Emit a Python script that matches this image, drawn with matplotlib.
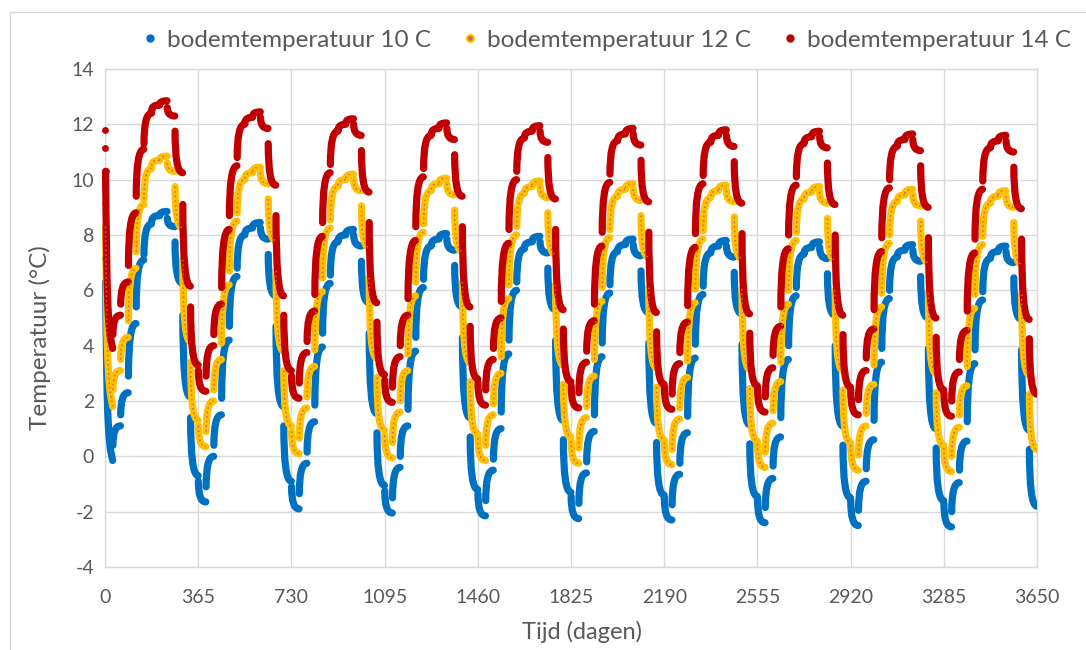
import numpy as np
import matplotlib.pyplot as plt
from matplotlib.lines import Line2D
from matplotlib.patches import Rectangle, PathPatch
from matplotlib.path import Path

plt.rcParams['font.family'] = ['Lato', 'DejaVu Sans']
plt.rcParams['axes.unicode_minus'] = False

# Monthly simulation results (10 years x 12 months):
# value just after the monthly load step and value at the end of the month
red_start = [
    [11.8, 4.4, 5.5, 6.9, 9.4, 11.3, 12.5, 12.7, 12.6, 11.75, 9.1, 5.4],
    [3.1, 2.9, 4.4, 6.1, 8.7, 10.8, 12.05, 12.3, 12.25, 11.3, 8.7, 5.1],
    [2.9, 2.65, 4.15, 5.85, 8.45, 10.55, 11.8, 12.05, 12.0, 11.05, 8.45, 4.85],
    [2.75, 2.5, 4.0, 5.7, 8.3, 10.4, 11.65, 11.9, 11.85, 10.9, 8.3, 4.7],
    [2.65, 2.4, 3.9, 5.6, 8.2, 10.3, 11.55, 11.8, 11.75, 10.8, 8.2, 4.6],
    [2.55, 2.3, 3.8, 5.5, 8.1, 10.2, 11.45, 11.7, 11.65, 10.7, 8.1, 4.5],
    [2.5, 2.25, 3.75, 5.45, 8.05, 10.15, 11.4, 11.65, 11.6, 10.65, 8.05, 4.45],
    [2.45, 2.15, 3.65, 5.4, 8.0, 10.1, 11.35, 11.6, 11.55, 10.6, 8.0, 4.4],
    [2.4, 2.05, 3.55, 5.3, 7.9, 10.0, 11.25, 11.5, 11.45, 10.5, 7.9, 4.3],
    [2.3, 2.0, 3.5, 5.25, 7.85, 9.95, 11.2, 11.45, 11.4, 10.45, 7.85, 4.25],
]
red_end = [
    [3.9, 5.1, 6.3, 8.8, 11.1, 12.4, 12.7, 12.85, 12.3, 10.25, 6.15, 3.3],
    [2.35, 4.0, 5.5, 8.2, 10.5, 12.0, 12.25, 12.45, 11.85, 9.8, 5.8, 3.1],
    [2.1, 3.75, 5.25, 7.95, 10.25, 11.75, 12.0, 12.2, 11.6, 9.55, 5.55, 2.95],
    [1.95, 3.6, 5.1, 7.8, 10.1, 11.6, 11.85, 12.05, 11.45, 9.4, 5.4, 2.8],
    [1.85, 3.5, 5.0, 7.7, 10.0, 11.5, 11.75, 11.95, 11.35, 9.3, 5.3, 2.7],
    [1.75, 3.4, 4.9, 7.6, 9.9, 11.4, 11.65, 11.85, 11.25, 9.2, 5.2, 2.6],
    [1.7, 3.35, 4.85, 7.55, 9.85, 11.35, 11.6, 11.8, 11.2, 9.15, 5.15, 2.55],
    [1.6, 3.2, 4.7, 7.5, 9.8, 11.3, 11.55, 11.75, 11.15, 9.1, 5.1, 2.5],
    [1.5, 3.1, 4.6, 7.4, 9.7, 11.2, 11.45, 11.65, 11.05, 9.0, 5.0, 2.4],
    [1.45, 3.05, 4.55, 7.35, 9.65, 11.15, 11.4, 11.6, 11.0, 8.95, 4.95, 2.25],
]
yellow_start = [
    [9.8, 2.4, 3.5, 4.9, 7.4, 9.3, 10.5, 10.7, 10.6, 9.75, 7.1, 3.4],
    [1.1, 0.9, 2.4, 4.1, 6.7, 8.8, 10.05, 10.3, 10.25, 9.3, 6.7, 3.1],
    [0.9, 0.65, 2.15, 3.85, 6.45, 8.55, 9.8, 10.05, 10.0, 9.05, 6.45, 2.85],
    [0.75, 0.5, 2.0, 3.7, 6.3, 8.4, 9.65, 9.9, 9.85, 8.9, 6.3, 2.7],
    [0.65, 0.4, 1.9, 3.6, 6.2, 8.3, 9.55, 9.8, 9.75, 8.8, 6.2, 2.6],
    [0.55, 0.3, 1.8, 3.5, 6.1, 8.2, 9.45, 9.7, 9.65, 8.7, 6.1, 2.5],
    [0.5, 0.25, 1.75, 3.45, 6.05, 8.15, 9.4, 9.65, 9.6, 8.65, 6.05, 2.45],
    [0.45, 0.15, 1.65, 3.4, 6.0, 8.1, 9.35, 9.6, 9.55, 8.6, 6.0, 2.4],
    [0.4, 0.05, 1.55, 3.3, 5.9, 8.0, 9.25, 9.5, 9.45, 8.5, 5.9, 2.3],
    [0.3, 0.0, 1.5, 3.25, 5.85, 7.95, 9.2, 9.45, 9.4, 8.45, 5.85, 2.25],
]
yellow_end = [
    [1.8, 3.1, 4.3, 6.8, 9.1, 10.4, 10.7, 10.85, 10.3, 8.25, 4.15, 1.3],
    [0.35, 2.0, 3.5, 6.2, 8.5, 10.0, 10.25, 10.45, 9.85, 7.8, 3.8, 1.1],
    [0.1, 1.75, 3.25, 5.95, 8.25, 9.75, 10.0, 10.2, 9.6, 7.55, 3.55, 0.95],
    [-0.05, 1.6, 3.1, 5.8, 8.1, 9.6, 9.85, 10.05, 9.45, 7.4, 3.4, 0.8],
    [-0.15, 1.5, 3.0, 5.7, 8.0, 9.5, 9.75, 9.95, 9.35, 7.3, 3.3, 0.7],
    [-0.25, 1.4, 2.9, 5.6, 7.9, 9.4, 9.65, 9.85, 9.25, 7.2, 3.2, 0.6],
    [-0.3, 1.35, 2.85, 5.55, 7.85, 9.35, 9.6, 9.8, 9.2, 7.15, 3.15, 0.55],
    [-0.4, 1.2, 2.7, 5.5, 7.8, 9.3, 9.55, 9.75, 9.15, 7.1, 3.1, 0.5],
    [-0.5, 1.1, 2.6, 5.4, 7.7, 9.2, 9.45, 9.65, 9.05, 7.0, 3.0, 0.4],
    [-0.55, 1.05, 2.55, 5.35, 7.65, 9.15, 9.4, 9.6, 9.0, 6.95, 2.95, 0.25],
]
blue_start = [
    [7.8, 0.4, 1.5, 2.9, 5.4, 7.3, 8.5, 8.7, 8.6, 7.75, 5.1, 1.4],
    [-0.9, -1.1, 0.4, 2.1, 4.7, 6.8, 8.05, 8.3, 8.25, 7.3, 4.7, 1.1],
    [-1.1, -1.35, 0.15, 1.85, 4.45, 6.55, 7.8, 8.05, 8.0, 7.05, 4.45, 0.85],
    [-1.25, -1.5, 0.0, 1.7, 4.3, 6.4, 7.65, 7.9, 7.85, 6.9, 4.3, 0.7],
    [-1.35, -1.6, -0.1, 1.6, 4.2, 6.3, 7.55, 7.8, 7.75, 6.8, 4.2, 0.6],
    [-1.45, -1.7, -0.2, 1.5, 4.1, 6.2, 7.45, 7.7, 7.65, 6.7, 4.1, 0.5],
    [-1.5, -1.75, -0.25, 1.45, 4.05, 6.15, 7.4, 7.65, 7.6, 6.65, 4.05, 0.45],
    [-1.55, -1.85, -0.35, 1.4, 4.0, 6.1, 7.35, 7.6, 7.55, 6.6, 4.0, 0.4],
    [-1.6, -1.95, -0.45, 1.3, 3.9, 6.0, 7.25, 7.5, 7.45, 6.5, 3.9, 0.3],
    [-1.7, -2.0, -0.5, 1.25, 3.85, 5.95, 7.2, 7.45, 7.4, 6.45, 3.85, 0.25],
]
blue_end = [
    [-0.15, 1.1, 2.3, 4.8, 7.1, 8.4, 8.7, 8.85, 8.3, 6.25, 2.15, -0.7],
    [-1.65, 0.0, 1.5, 4.2, 6.5, 8.0, 8.25, 8.45, 7.85, 5.8, 1.8, -0.9],
    [-1.9, -0.25, 1.25, 3.95, 6.25, 7.75, 8.0, 8.2, 7.6, 5.55, 1.55, -1.05],
    [-2.05, -0.4, 1.1, 3.8, 6.1, 7.6, 7.85, 8.05, 7.45, 5.4, 1.4, -1.2],
    [-2.15, -0.5, 1.0, 3.7, 6.0, 7.5, 7.75, 7.95, 7.35, 5.3, 1.3, -1.3],
    [-2.25, -0.6, 0.9, 3.6, 5.9, 7.4, 7.65, 7.85, 7.25, 5.2, 1.2, -1.4],
    [-2.3, -0.65, 0.85, 3.55, 5.85, 7.35, 7.6, 7.8, 7.2, 5.15, 1.15, -1.45],
    [-2.4, -0.8, 0.7, 3.5, 5.8, 7.3, 7.55, 7.75, 7.15, 5.1, 1.1, -1.5],
    [-2.5, -0.9, 0.6, 3.4, 5.7, 7.2, 7.45, 7.65, 7.05, 5.0, 1.0, -1.6],
    [-2.55, -0.95, 0.55, 3.35, 5.65, 7.15, 7.4, 7.6, 7.0, 4.95, 0.95, -1.8],
]

# first month: fast cooling from the initial ground temperature
jan_days = [0.3, 1, 2, 4, 6, 8, 11, 15, 21, 30]
red_jan = [11.8, 11.15, 10.3, 8.8, 7.4, 6.4, 5.5, 4.8, 4.3, 3.9]
yellow_jan = [9.8, 9.15, 8.3, 6.8, 5.4, 4.4, 3.5, 2.8, 2.25, 1.8]
blue_jan = [7.8, 7.15, 6.3, 4.8, 3.4, 2.4, 1.5, 0.8, 0.25, -0.15]

labels = ['bodemtemperatuur 10 C', 'bodemtemperatuur 12 C', 'bodemtemperatuur 14 C']
x_ticks = [0, 365, 730, 1095, 1460, 1825, 2190, 2555, 2920, 3285, 3650]
y_ticks = [-4, -2, 0, 2, 4, 6, 8, 10, 12, 14]

blue_c = '#0070C0'
yellow_c = '#FFC000'
red_c = '#C00000'
dot_c = '#C8645A'
grid_c = '#D9D9D9'
text_c = '#595959'

month_len = 365 / 12


def month_path(start, end):
    # each month: the step value relaxes towards the month-end value,
    # drawn as a curve that leaves the step steeply and flattens out
    start = np.ravel(start)
    end = np.ravel(end)
    verts, codes = [], []
    for m in range(1, len(start)):
        d0 = m * month_len + 0.5
        d1 = (m + 1) * month_len - 0.5
        verts += [(d0, start[m]), (d0, end[m]), (d1, end[m])]
        codes += [Path.MOVETO, Path.CURVE3, Path.CURVE3]
    return Path(verts, codes)


fig = plt.figure(figsize=(10.86, 6.5), dpi=100)
ax = fig.add_axes([0.0967, 0.1277, 0.8582, 0.7662])

lw = 5.2
for start, end, jan, col in [(blue_start, blue_end, blue_jan, blue_c),
                             (yellow_start, yellow_end, yellow_jan, yellow_c),
                             (red_start, red_end, red_jan, red_c)]:
    path = month_path(start, end)
    ax.add_patch(PathPatch(path, fill=False, ec=col, lw=lw, capstyle='round',
                           joinstyle='round', zorder=3))
    ax.plot(jan_days[2:], jan[2:], color=col, lw=lw, solid_capstyle='round',
            solid_joinstyle='round', clip_on=False, zorder=3)
    ax.plot(jan_days[:3], jan[:3], 'o', color=col, ms=lw * 0.95, mec='none',
            clip_on=False, zorder=3)
    if col == yellow_c:
        # small reddish centre of the yellow markers
        ax.add_patch(PathPatch(path, fill=False, ec=dot_c, lw=1.1,
                               ls=(0, (1, 2)), zorder=3.5))
        ax.plot(jan_days[2:], jan[2:], color=dot_c, lw=1.1, ls=(0, (1, 2)),
                clip_on=False, zorder=3.5)

ax.set_xlim(0, 3650)
ax.set_ylim(-4, 14)
ax.set_xticks(x_ticks)
ax.set_yticks(y_ticks)
ax.grid(True, color=grid_c, lw=1)
ax.set_axisbelow(True)
for s in ax.spines.values():
    s.set_color(grid_c)
    s.set_linewidth(1)
ax.tick_params(length=0, labelsize=14, labelcolor=text_c)
ax.tick_params(axis='x', pad=16)
ax.tick_params(axis='y', pad=8)

fig.text(40 / 1086, 1 - 338 / 650, 'Temperatuur (°C)', rotation=90,
         ha='center', va='center', fontsize=17.5, color=text_c)
fig.text(582 / 1086, 1 - 632 / 650, 'Tijd (dagen)', ha='center', va='center',
         fontsize=17, color=text_c)

handles = [
    Line2D([], [], ls='none', marker='o', ms=5, mfc=blue_c, mec=blue_c),
    Line2D([], [], ls='none', marker='o', ms=5, mfc=dot_c, mec=yellow_c, mew=1.5),
    Line2D([], [], ls='none', marker='o', ms=5, mfc=red_c, mec=red_c),
]
fig.legend(handles, labels, loc='center', bbox_to_anchor=(0.559, 0.938), ncol=3,
           frameon=False, fontsize=17.5, labelcolor=text_c, handlelength=0.6,
           handletextpad=0.4, columnspacing=1.3)

# light chart border
fig.patches.append(Rectangle((10 / 1086, -0.1), 1.2, 0.1 + 1 - 12 / 650,
                             transform=fig.transFigure, fill=False,
                             ec=grid_c, lw=1))

fig.savefig('out.png', dpi=100)
